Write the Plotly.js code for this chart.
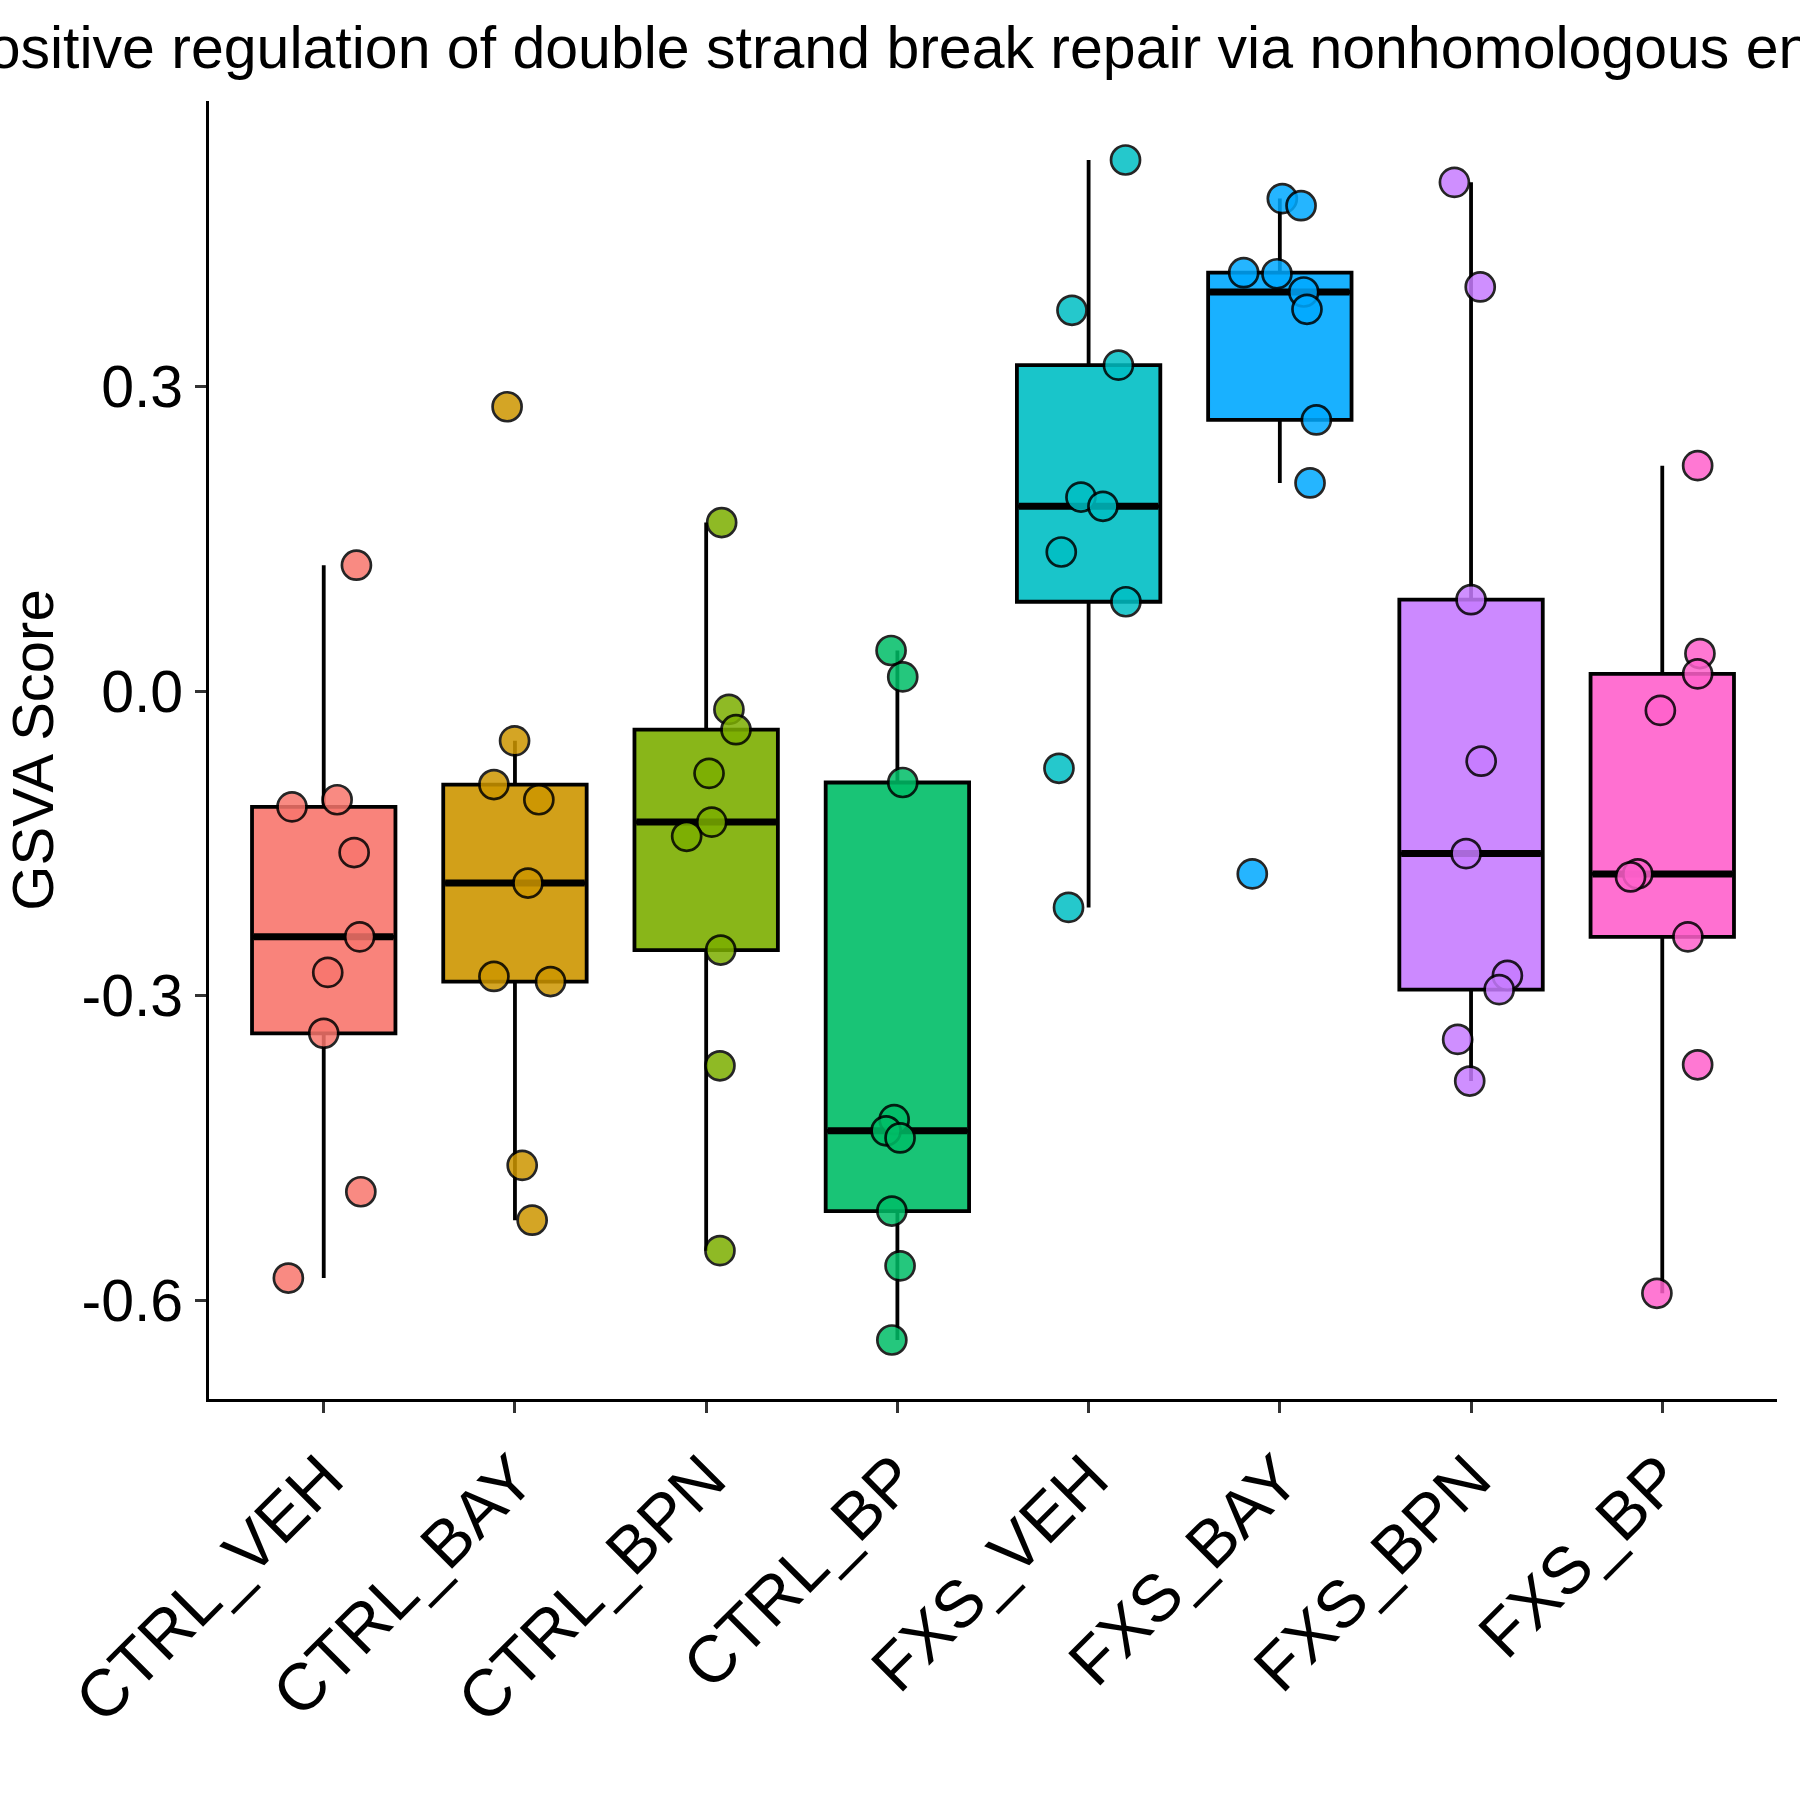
<!DOCTYPE html>
<html>
<head>
<meta charset="utf-8">
<script src="https://cdn.plot.ly/plotly-3.0.1.min.js"></script>
<style>
  html, body { margin: 0; padding: 0; background: #fff; }
  #chart { width: 1800px; height: 1800px; }
</style>
</head>
<body>
<div id="chart"></div>
<script>
// GSVA scores per group (9 samples each)
const groups = ['CTRL_VEH', 'CTRL_BAY', 'CTRL_BPN', 'CTRL_BP', 'FXS_VEH', 'FXS_BAY', 'FXS_BPN', 'FXS_BP'];
const colors = ['#F8766D', '#CD9600', '#7CAE00', '#00BE67', '#00BFC4', '#00A9FF', '#C77CFF', '#FF61CC'];

const ctrlVeh = [0.124, -0.114, -0.107, -0.159, -0.242, -0.277, -0.337, -0.493, -0.578];
const ctrlBay = [0.280, -0.049, -0.092, -0.107, -0.189, -0.281, -0.286, -0.467, -0.521];
const ctrlBpn = [0.166, -0.018, -0.038, -0.081, -0.129, -0.143, -0.255, -0.369, -0.551];
const ctrlBp  = [0.040, 0.014, -0.090, -0.422, -0.433, -0.440, -0.512, -0.566, -0.639];
const fxsVeh  = [0.523, 0.375, 0.321, 0.191, 0.182, 0.137, 0.088, -0.076, -0.213];
const fxsBay  = [0.485, 0.478, 0.412, 0.411, 0.393, 0.376, 0.267, 0.205, -0.180];
const fxsBpn  = [0.501, 0.398, 0.090, -0.069, -0.160, -0.280, -0.294, -0.343, -0.384];
const fxsBp   = [0.222, 0.037, 0.017, -0.019, -0.180, -0.183, -0.242, -0.368, -0.593];

// horizontal jitter of each point (category units), as seen in the picture
const ctrlVehJit = [0.171, -0.166, 0.070, 0.159, 0.188, 0.021, 0.000, 0.194, -0.185];
const ctrlBayJit = [-0.041, -0.002, -0.110, 0.125, 0.068, -0.110, 0.186, 0.038, 0.090];
const ctrlBpnJit = [0.081, 0.119, 0.156, 0.015, 0.029, -0.102, 0.076, 0.072, 0.072];
const ctrlBpJit  = [-0.033, 0.028, 0.028, -0.017, -0.059, 0.014, -0.029, 0.014, -0.029];
const fxsVehJit  = [0.193, -0.087, 0.156, -0.040, 0.075, -0.143, 0.195, -0.155, -0.105];
const fxsBayJit  = [0.013, 0.111, -0.189, -0.015, 0.125, 0.142, 0.191, 0.158, -0.144];
const fxsBpnJit  = [-0.087, 0.048, 0.000, 0.053, -0.026, 0.190, 0.147, -0.070, -0.007];
const fxsBpJit   = [0.185, 0.197, 0.185, -0.010, -0.128, -0.166, 0.134, 0.185, -0.028];

const yTicks = [-0.6, -0.3, 0, 0.3];

const titleText = 'positive regulation of double strand break repair via nonhomologous end joining';

const scores = [ctrlVeh, ctrlBay, ctrlBpn, ctrlBp, fxsVeh, fxsBay, fxsBpn, fxsBp];
const jitters = [ctrlVehJit, ctrlBayJit, ctrlBpnJit, ctrlBpJit, fxsVehJit, fxsBayJit, fxsBpnJit, fxsBpJit];

const FONT = 'Liberation Sans, Arial, Helvetica, sans-serif';
const BOX_W = 0.75;

function hexToRgba(hex, alpha) {
    const r = parseInt(hex.slice(1, 3), 16);
    const g = parseInt(hex.slice(3, 5), 16);
    const b = parseInt(hex.slice(5, 7), 16);
    return `rgba(${r},${g},${b},${alpha})`;
}

function median(arr) {
    const s = [...arr].sort((a, b) => a - b);
    const m = Math.floor(s.length / 2);
    return s.length % 2 ? s[m] : (s[m - 1] + s[m]) / 2;
}

const traces = [];

// boxes (ggplot-style: type 7 quartiles, whiskers to 1.5 IQR, outliers hidden)
groups.forEach((g, i) => {
    traces.push({
        type: 'box', y: scores[i], x0: i, name: g,
        width: BOX_W, quartilemethod: 'inclusive',
        boxpoints: 'outliers', marker: { opacity: 0, size: 1 },
        fillcolor: hexToRgba(colors[i], 0.9),
        line: { color: '#000', width: 3.8 },
        whiskerwidth: 0, hoverinfo: 'skip', showlegend: false
    });
});

// thicker median bar, as ggplot draws it
groups.forEach((g, i) => {
    const m = median(scores[i]);
    traces.push({
        type: 'scatter', mode: 'lines',
        x: [i - BOX_W / 2 + 0.01, i + BOX_W / 2 - 0.01], y: [m, m],
        line: { color: '#000', width: 7 },
        hoverinfo: 'skip', showlegend: false
    });
});

// jittered points on top
groups.forEach((g, i) => {
    traces.push({
        type: 'scatter', mode: 'markers',
        x: jitters[i].map(d => i + d), y: scores[i],
        marker: { color: colors[i], size: 29, opacity: 0.85, line: { color: '#000', width: 2.7 } },
        hoverinfo: 'skip', showlegend: false
    });
});

const all = scores.flat();
const lo = Math.min(...all), hi = Math.max(...all);
const pad = (hi - lo) * 0.05;

const layout = {
    width: 1800, height: 1800,
    paper_bgcolor: '#fff', plot_bgcolor: '#fff',
    margin: { l: 209, r: 23, t: 101, b: 401 },
    font: { family: FONT, size: 58, color: '#000' },
    showlegend: false,
    title: {
        text: titleText,
        x: 0.5, xref: 'paper', xanchor: 'center',
        y: 1 - 47 / 1800, yref: 'container', yanchor: 'middle',
        font: { family: FONT, size: 59, color: '#000' }
    },
    xaxis: {
        range: [-0.6, groups.length - 0.4],
        tickvals: groups.map((g, i) => i), ticktext: groups,
        tickangle: -45,
        showline: true, linecolor: '#000', linewidth: 3,
        ticks: 'outside', ticklen: 11, tickwidth: 3, tickcolor: '#333',
        showgrid: false, zeroline: false,
        tickfont: { family: FONT, size: 66, color: '#000' }
    },
    yaxis: {
        range: [lo - pad, hi + pad],
        tickvals: yTicks, ticktext: yTicks.map(v => v.toFixed(1)),
        showline: true, linecolor: '#000', linewidth: 3,
        ticks: 'outside', ticklen: 11, tickwidth: 3, tickcolor: '#333',
        showgrid: false, zeroline: false,
        tickfont: { family: FONT, size: 59, color: '#000' },
        title: { text: 'GSVA Score', standoff: 10, font: { family: FONT, size: 58, color: '#000' } }
    }
};

Plotly.newPlot('chart', traces, layout, { staticPlot: true, displayModeBar: false });
</script>
</body>
</html>
